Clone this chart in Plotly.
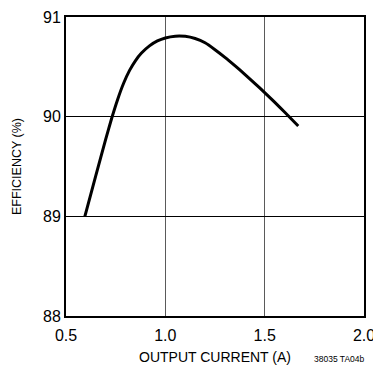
import plotly.graph_objects as go

# Efficiency vs. output current
current_a = [0.595, 0.65, 0.70, 0.73, 0.76, 0.79, 0.82, 0.85, 0.88, 0.92, 0.96,
             1.0, 1.05, 1.1, 1.15, 1.2, 1.25, 1.3, 1.35, 1.4, 1.45, 1.5,
             1.55, 1.6, 1.669]
efficiency_pct = [89.0, 89.409, 89.774, 89.984, 90.173, 90.335, 90.464, 90.563, 90.638,
                  90.71, 90.76, 90.79, 90.808, 90.806, 90.784, 90.741, 90.672,
                  90.595, 90.512, 90.425, 90.335, 90.242, 90.146, 90.047, 89.907]

x_ticks = [0.5, 1.0, 1.5, 2.0]
x_tick_text = ["0.5", "1.0", "1.5", "2.0"]
y_ticks = [88, 89, 90, 91]
y_tick_text = ["88", "89", "90", "91"]

FONT = "Liberation Sans Narrow, Arial Narrow, Arial, sans-serif"

fig = go.Figure()
fig.add_trace(go.Scatter(
    x=current_a, y=efficiency_pct, mode="lines",
    line=dict(color="black", width=3, shape="spline", smoothing=0.5),
    showlegend=False, hoverinfo="skip",
))

fig.update_layout(
    width=373, height=365,
    margin=dict(l=66, r=9, t=17, b=49),
    paper_bgcolor="white", plot_bgcolor="white",
    font=dict(family=FONT, color="black", size=15),
    xaxis=dict(
        range=[0.5, 2.0], tickvals=x_ticks, ticktext=x_tick_text,
        showgrid=True, gridcolor="#5a5a5a", gridwidth=1.3,
        showline=True, linecolor="black", linewidth=2, mirror=True,
        ticks="", zeroline=False, tickfont=dict(size=16),
        ticklabeloverflow="allow", ticklabelstandoff=4, automargin=False,
        title=dict(text="OUTPUT CURRENT (A)", font=dict(size=14), standoff=12),
    ),
    yaxis=dict(
        range=[88, 91], tickvals=y_ticks, ticktext=y_tick_text,
        showgrid=True, gridcolor="black", gridwidth=1,
        showline=True, linecolor="black", linewidth=2, mirror=True,
        ticks="", zeroline=False, tickfont=dict(size=16), automargin=False,
        title=dict(text="EFFICIENCY (%)", font=dict(size=12.5), standoff=19),
    ),
    annotations=[dict(
        text="38035 TA04b", xref="paper", yref="paper",
        x=1.0, y=-0.12, xanchor="right", yanchor="top", xshift=3,
        showarrow=False, font=dict(size=8.5, family=FONT),
    )],
)

fig.write_html("out.html")
